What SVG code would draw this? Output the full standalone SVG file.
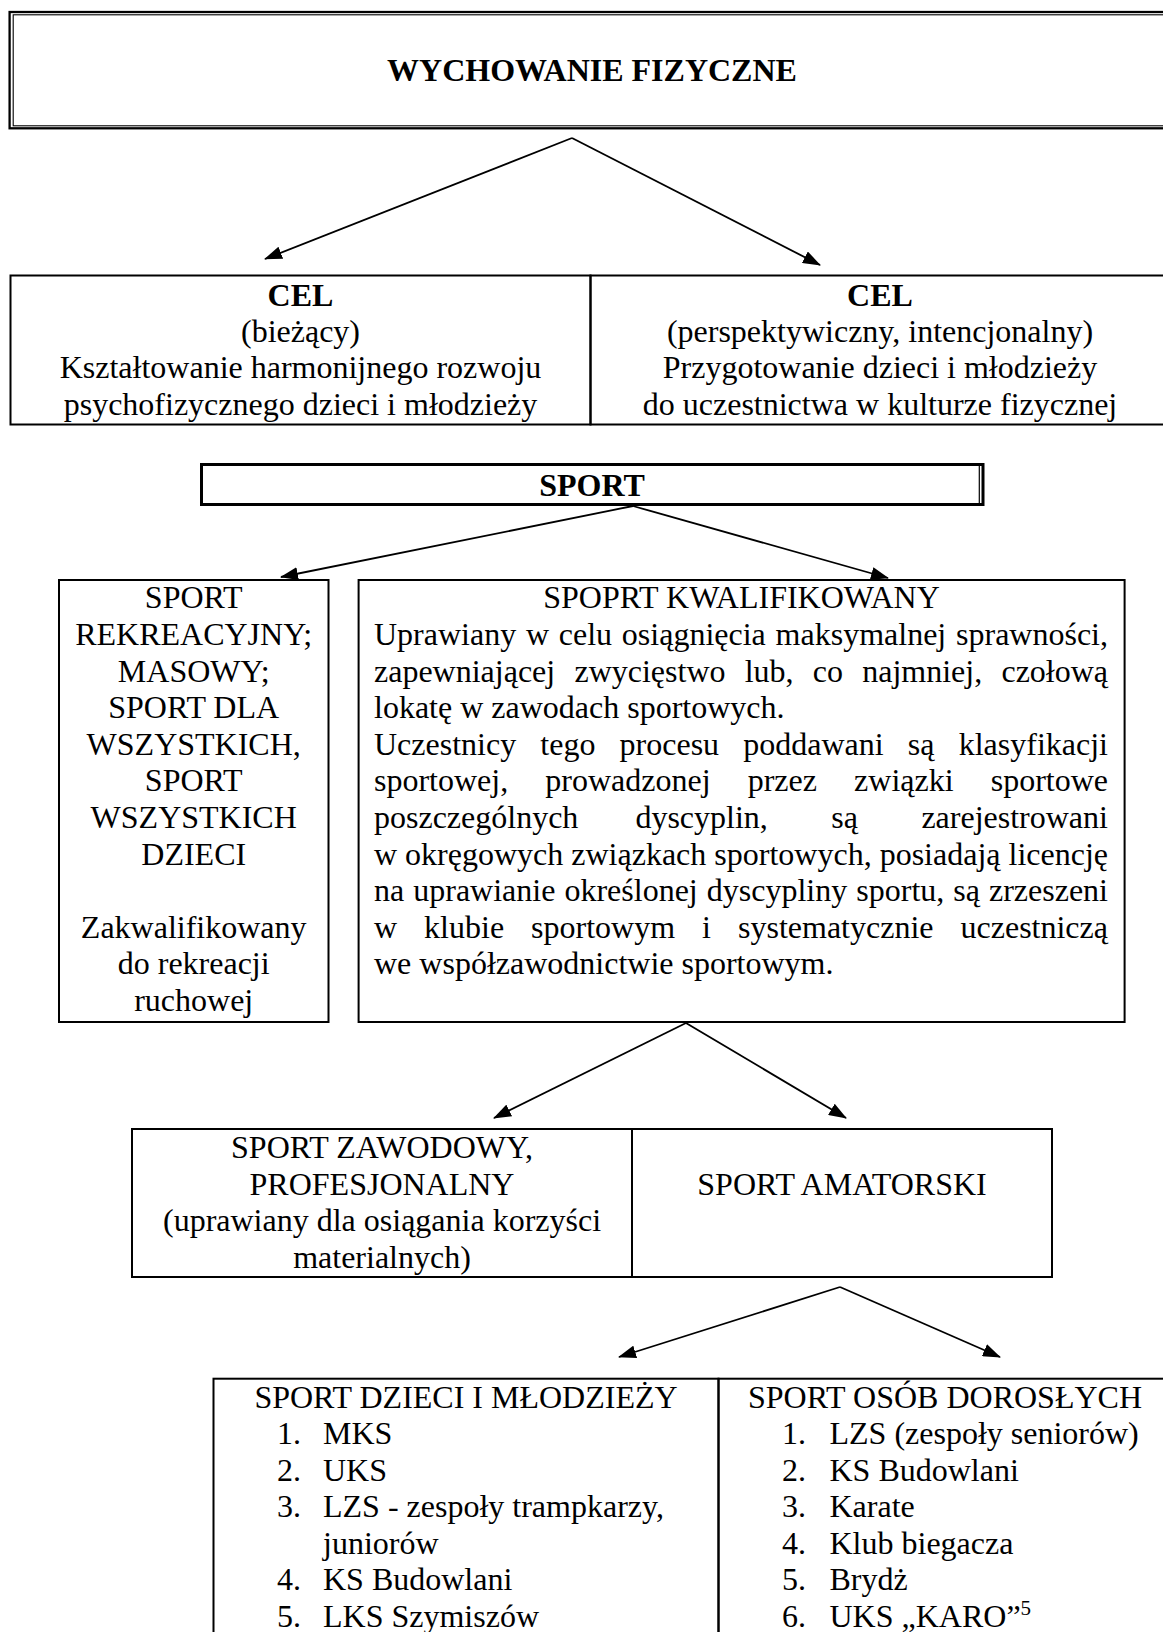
<svg xmlns="http://www.w3.org/2000/svg" width="1163" height="1632" viewBox="0 0 1163 1632">
<style>
text{font-family:"Liberation Serif","Times New Roman",serif;font-size:32px;fill:#000}
.c{text-anchor:middle}
.b{font-weight:bold}
.box{fill:none;stroke:#000;stroke-width:2}
.con line{stroke:#000;stroke-width:1.8}
</style>
<defs>
<marker id="ah" markerUnits="userSpaceOnUse" markerWidth="18" markerHeight="13" viewBox="0 0 18 13" refX="17" refY="6.5" orient="auto">
<path d="M0,0 L18,6.5 L0,13 z" fill="#000"/>
</marker>
</defs>
<rect width="1163" height="1632" fill="#fff"/>

<g id="wychowanie">
<rect x="9.6" y="12" width="1170" height="116.3" fill="none" stroke="#000" stroke-width="2.3"/>
<rect x="13.2" y="14.8" width="1170" height="111" fill="none" stroke="#000" stroke-width="1.1"/>
<text class="c b" x="592" y="81">WYCHOWANIE FIZYCZNE</text>
</g>

<g id="cel-biezacy">
<rect class="box" x="10.5" y="275.5" width="580" height="149"/>
<text class="c b" x="300.5" y="305.5">CEL</text>
<text class="c" x="300.5" y="341.8">(bieżący)</text>
<text class="c" x="300.5" y="378.2">Kształtowanie harmonijnego rozwoju</text>
<text class="c" x="300.5" y="414.5">psychofizycznego dzieci i młodzieży</text>
</g>

<g id="cel-perspektywiczny">
<rect class="box" x="590.5" y="275.5" width="590" height="149"/>
<text class="c b" x="880" y="305.5">CEL</text>
<text class="c" x="880" y="341.8">(perspektywiczny, intencjonalny)</text>
<text class="c" x="880" y="378.2">Przygotowanie dzieci i młodzieży</text>
<text class="c" x="880" y="414.5">do uczestnictwa w kulturze fizycznej</text>
</g>

<g id="sport">
<rect x="201.5" y="464.5" width="781.5" height="40" fill="none" stroke="#000" stroke-width="3"/>
<line x1="979.3" y1="466" x2="979.3" y2="503" stroke="#000" stroke-width="1.2"/>
<text class="c b" x="592" y="496">SPORT</text>
</g>

<g id="sport-rekreacyjny">
<rect class="box" x="59" y="580" width="269.5" height="442"/>
<text class="c" x="193.7" y="608.3">SPORT</text>
<text class="c" x="193.7" y="644.9">REKREACYJNY;</text>
<text class="c" x="193.7" y="681.5">MASOWY;</text>
<text class="c" x="193.7" y="718.1">SPORT DLA</text>
<text class="c" x="193.7" y="754.7">WSZYSTKICH,</text>
<text class="c" x="193.7" y="791.3">SPORT</text>
<text class="c" x="193.7" y="827.9">WSZYSTKICH</text>
<text class="c" x="193.7" y="864.5">DZIECI</text>
<text class="c" x="193.7" y="937.7">Zakwalifikowany</text>
<text class="c" x="193.7" y="974.3">do rekreacji</text>
<text class="c" x="193.7" y="1010.9">ruchowej</text>
</g>

<g id="sport-kwalifikowany">
<rect class="box" x="358.6" y="580" width="766" height="442"/>
<text class="c" x="741.5" y="608.3">SPOPRT KWALIFIKOWANY</text>
<text y="644.9"><tspan x="374">Uprawiany</tspan><tspan x="525.94">w</tspan><tspan x="558.8">celu</tspan><tspan x="621.87">osiągnięcia</tspan><tspan x="775.6">maksymalnej</tspan><tspan x="956.02">sprawności,</tspan></text>
<text y="681.5"><tspan x="374">zapewniającej</tspan><tspan x="574.45">zwycięstwo</tspan><tspan x="744.72">lub,</tspan><tspan x="812.82">co</tspan><tspan x="862.23">najmniej,</tspan><tspan x="1001.43">czołową</tspan></text>
<text x="374" y="718.1">lokatę w zawodach sportowych.</text>
<text y="754.7"><tspan x="374">Uczestnicy</tspan><tspan x="540.34">tego</tspan><tspan x="619.6">procesu</tspan><tspan x="743.28">poddawani</tspan><tspan x="907.86">są</tspan><tspan x="958.68">klasyfikacji</tspan></text>
<text y="791.3"><tspan x="374">sportowej,</tspan><tspan x="545.31">prowadzonej</tspan><tspan x="747.69">przez</tspan><tspan x="854.07">związki</tspan><tspan x="990.69">sportowe</tspan></text>
<text y="827.9"><tspan x="374">poszczególnych</tspan><tspan x="635.41">dyscyplin,</tspan><tspan x="831.29">są</tspan><tspan x="921.38">zarejestrowani</tspan></text>
<text y="864.5"><tspan x="374">w</tspan><tspan x="405.1">okręgowych</tspan><tspan x="571.28">związkach</tspan><tspan x="714.32">sportowych,</tspan><tspan x="879.63">posiadają</tspan><tspan x="1008.49">licencję</tspan></text>
<text y="901.1"><tspan x="374">na</tspan><tspan x="413.24">uprawianie</tspan><tspan x="564.45">określonej</tspan><tspan x="706.79">dyscypliny</tspan><tspan x="856.27">sportu,</tspan><tspan x="953.3">są</tspan><tspan x="988.99">zrzeszeni</tspan></text>
<text y="937.7"><tspan x="374">w</tspan><tspan x="424.1">klubie</tspan><tspan x="531.1">sportowym</tspan><tspan x="702.1">i</tspan><tspan x="738">systematycznie</tspan><tspan x="960.52">uczestniczą</tspan></text>
<text x="374" y="974.3">we współzawodnictwie sportowym.</text>
</g>

<g id="sport-zawodowy">
<rect class="box" x="132" y="1129" width="500" height="148"/>
<text class="c" x="382" y="1158">SPORT ZAWODOWY,</text>
<text class="c" x="382" y="1194.7">PROFESJONALNY</text>
<text class="c" x="382" y="1231.4">(uprawiany dla osiągania korzyści</text>
<text class="c" x="382" y="1268">materialnych)</text>
</g>

<g id="sport-amatorski">
<rect class="box" x="632" y="1129" width="420" height="148"/>
<text class="c" x="842" y="1194.7">SPORT AMATORSKI</text>
</g>

<g id="sport-dzieci">
<rect class="box" x="213.5" y="1378.7" width="505" height="300"/>
<text class="c" x="466" y="1407.7">SPORT DZIECI I MŁODZIEŻY</text>
<text x="277" y="1444.2">1.</text><text x="323" y="1444.2">MKS</text>
<text x="277" y="1480.7">2.</text><text x="323" y="1480.7">UKS</text>
<text x="277" y="1517.2">3.</text><text x="323" y="1517.2">LZS - zespoły trampkarzy,</text>
<text x="323" y="1553.7">juniorów</text>
<text x="277" y="1590.2">4.</text><text x="323" y="1590.2">KS Budowlani</text>
<text x="277" y="1626.7">5.</text><text x="323" y="1626.7">LKS Szymiszów</text>
</g>

<g id="sport-dorosli">
<rect class="box" x="718.5" y="1378.7" width="460" height="300"/>
<text class="c" x="945" y="1407.7">SPORT OSÓB DOROSŁYCH</text>
<text x="782" y="1444.2">1.</text><text x="829.5" y="1444.2">LZS (zespoły seniorów)</text>
<text x="782" y="1480.7">2.</text><text x="829.5" y="1480.7">KS Budowlani</text>
<text x="782" y="1517.2">3.</text><text x="829.5" y="1517.2">Karate</text>
<text x="782" y="1553.7">4.</text><text x="829.5" y="1553.7">Klub biegacza</text>
<text x="782" y="1590.2">5.</text><text x="829.5" y="1590.2">Brydż</text>
<text x="782" y="1626.7">6.</text><text x="829.5" y="1626.7">UKS „KARO”<tspan font-size="21" dy="-12">5</tspan></text>
</g>

<g id="connectors" class="con">
<line x1="572" y1="138" x2="265" y2="259" marker-end="url(#ah)"/>
<line x1="572" y1="138" x2="820" y2="265" marker-end="url(#ah)"/>
<line x1="633" y1="506" x2="281" y2="577" marker-end="url(#ah)"/>
<line x1="633" y1="506" x2="888" y2="578" marker-end="url(#ah)"/>
<line x1="686" y1="1023" x2="494" y2="1118" marker-end="url(#ah)"/>
<line x1="686" y1="1023" x2="846" y2="1118" marker-end="url(#ah)"/>
<line x1="840" y1="1287" x2="619" y2="1357" marker-end="url(#ah)"/>
<line x1="840" y1="1287" x2="1000" y2="1357" marker-end="url(#ah)"/>
</g>
</svg>
